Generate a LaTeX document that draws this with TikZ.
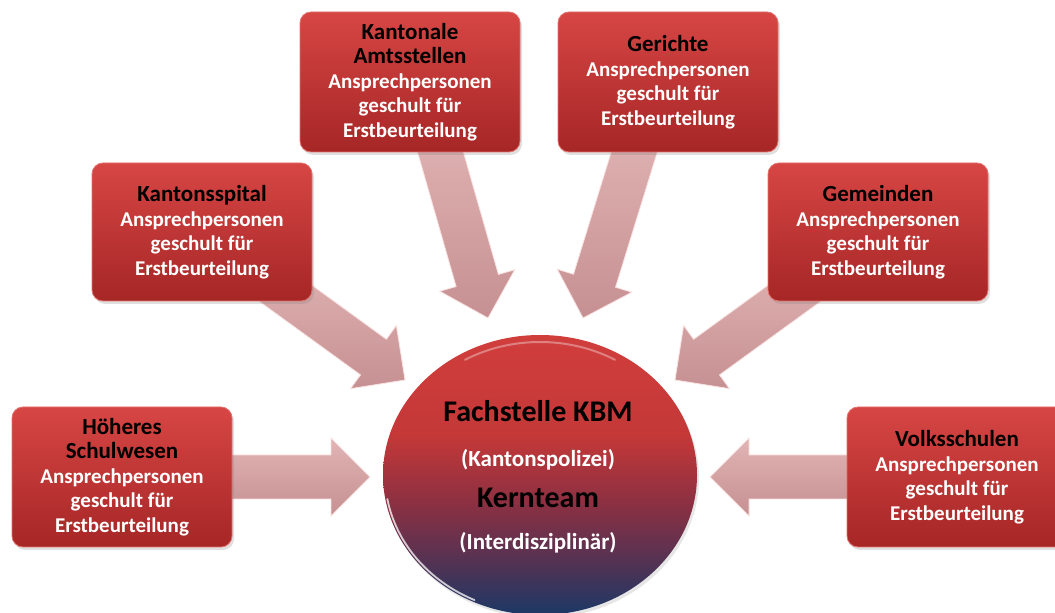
\documentclass[tikz,border=0pt]{standalone}
\usepackage{fontspec}
\setmainfont{Carlito}
\usetikzlibrary{calc,shapes.geometric,shadows}
\definecolor{boxtop}{RGB}{214,70,68}
\definecolor{boxbot}{RGB}{166,38,38}
\definecolor{boxrim}{RGB}{226,112,108}
\definecolor{arrtop}{RGB}{222,172,172}
\definecolor{arrbot}{RGB}{192,132,134}
\definecolor{arrrim}{RGB}{250,225,225}
\pgfdeclareverticalshading{ballshade}{100bp}{%
  color(0bp)=(rgb,255:red,28;green,56;blue,102);
  color(25bp)=(rgb,255:red,28;green,56;blue,102);
  color(35bp)=(rgb,255:red,86;green,50;blue,82);
  color(45bp)=(rgb,255:red,140;green,48;blue,66);
  color(57bp)=(rgb,255:red,196;green,56;blue,56);
  color(75bp)=(rgb,255:red,208;green,62;blue,60);
  color(100bp)=(rgb,255:red,208;green,62;blue,60)}
\tikzset{
  orgbox/.style={rounded corners=11pt, minimum width=220pt, minimum height=140pt,
    top color=boxtop, bottom color=boxbot, draw=boxrim, line width=0.8pt,
    drop shadow={shadow xshift=2pt, shadow yshift=-3pt, opacity=0.25},
    text=white, align=center, inner sep=0pt,
    font=\bfseries\fontsize{21}{24.5}\selectfont},
  blockarrow/.style={top color=arrtop, bottom color=arrbot, draw=arrrim,
    line width=0.8pt, fill opacity=0.9, line join=miter},
  centertxt/.style={anchor=base, font=\bfseries\fontsize{#1}{#1}\selectfont},
}
\newcommand\blockarr[2]{%
  \coordinate (hb) at ($(#2)!39pt!(#1)$);
  \path[blockarrow] (#2) -- ($(hb)!39pt!90:(#1)$) -- ($(hb)!22pt!90:(#1)$)
    -- ($(#1)!22pt!-90:(hb)$) -- ($(#1)!22pt!90:(hb)$)
    -- ($(hb)!22pt!-90:(#1)$) -- ($(hb)!39pt!-90:(#1)$) -- cycle;
}
\newcommand\blk[1]{{\bfseries\fontsize{23}{24.5}\selectfont\color{black}#1}}
\begin{document}
\begin{tikzpicture}[x=1pt,y=1pt]
\useasboundingbox (0,0) rectangle (1055,613);
\clip (0,0) rectangle (1055,613);
% arrow coordinates
\coordinate (s1) at (200,136);  \coordinate (t1) at (370,136);
\coordinate (s2) at (900,136);  \coordinate (t2) at (710,136);
\coordinate (s3) at (259,339);  \coordinate (t3) at (405,233);
\coordinate (s4) at (821,339);  \coordinate (t4) at (675,233);
\coordinate (s5) at (433,487);  \coordinate (t5) at (488,295);
\coordinate (s6) at (642,486);  \coordinate (t6) at (583,295);
\blockarr{s1}{t1}
\blockarr{s2}{t2}
\blockarr{s3}{t3}
\blockarr{s4}{t4}
\blockarr{s5}{t5}
\blockarr{s6}{t6}
% boxes
\node[orgbox] (amt) at (410,531) {\blk{Kantonale}\\\blk{Amtsstellen}\\Ansprechpersonen\\geschult für\\Erstbeurteilung};
\node[orgbox] (ger) at (668,531) {\blk{Gerichte}\\Ansprechpersonen\\geschult für\\Erstbeurteilung};
\node[orgbox, minimum height=138pt] (spital) at (202,381) {\blk{Kantonsspital}\\Ansprechpersonen\\geschult für\\Erstbeurteilung};
\node[orgbox, minimum height=138pt] (gem) at (878,381) {\blk{Gemeinden}\\Ansprechpersonen\\geschult für\\Erstbeurteilung};
\node[orgbox] (hoh) at (122,136) {\blk{Höheres}\\\blk{Schulwesen}\\Ansprechpersonen\\geschult für\\Erstbeurteilung};
\node[orgbox] (volk) at (957,136) {\blk{Volksschulen}\\Ansprechpersonen\\geschult für\\Erstbeurteilung};
% central ellipse
\node[ellipse, minimum width=314pt, minimum height=280pt, inner sep=0pt,
  shading=ballshade, drop shadow={shadow xshift=2pt, shadow yshift=-3pt, opacity=0.2}] (kbm) at (540,138) {};
\draw[white, line width=1.8pt, opacity=0.75, line cap=round]
  ([shift={(190:155pt and 138pt)}]kbm.center) arc[start angle=190, end angle=245, x radius=155pt, y radius=138pt];
\draw[white, line width=2pt, opacity=0.35, line cap=round]
  ([shift={(60:150pt and 133pt)}]kbm.center) arc[start angle=60, end angle=120, x radius=150pt, y radius=133pt];
\node[centertxt=30] (t-a) at (538,191) {Fachstelle KBM};
\node[centertxt=23, text=white] (t-b) at (538,146) {(Kantonspolizei)};
\node[centertxt=30] (t-c) at (538,105) {Kernteam};
\node[centertxt=23, text=white] (t-d) at (538,63) {(Interdisziplinär)};
\end{tikzpicture}
\end{document}
